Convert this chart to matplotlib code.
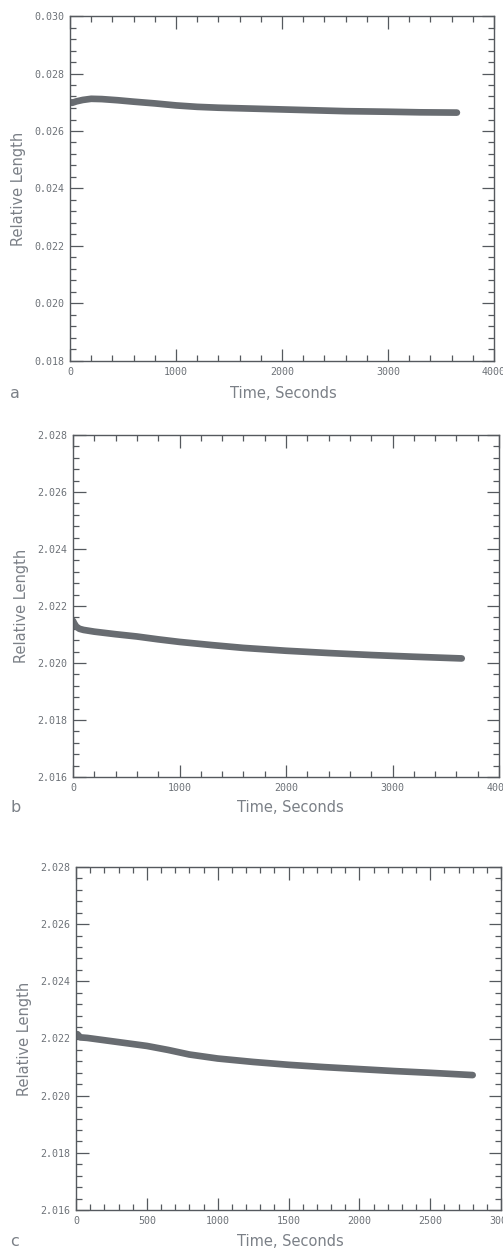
import matplotlib
matplotlib.use("Agg")
import matplotlib.pyplot as plt
from matplotlib.ticker import MultipleLocator

# ---- data ----
time_a = [0, 20, 60, 120, 200, 300, 450, 600, 800, 1000, 1200, 1400, 1700, 2000, 2300, 2600, 3000, 3300, 3650]
len_a = [0.02700, 0.02698, 0.02703, 0.02708, 0.02712, 0.02711, 0.02707, 0.02702, 0.02696, 0.02689, 0.02684,
         0.02681, 0.02678, 0.02675, 0.02672, 0.02669, 0.02667, 0.02665, 0.02664]

time_b = [0, 10, 30, 60, 100, 200, 400, 600, 800, 1000, 1300, 1600, 2000, 2400, 2800, 3200, 3650]
len_b = [0.02148, 0.02140, 0.02128, 0.02120, 0.02116, 0.02110, 0.02101, 0.02093, 0.02083, 0.02074, 0.02063,
         0.02053, 0.02043, 0.02035, 0.02028, 0.02022, 0.02016]

time_c = [0, 10, 30, 80, 200, 350, 500, 650, 800, 1000, 1250, 1500, 1750, 2000, 2250, 2500, 2800]
len_c = [0.02210, 0.02215, 0.02204, 0.02202, 0.02194, 0.02184, 0.02174, 0.02160, 0.02144, 0.02130, 0.02118,
         0.02108, 0.02100, 0.02093, 0.02086, 0.02080, 0.02072]

yticks = [0.016, 0.018, 0.020, 0.022, 0.024, 0.026, 0.028]
yticklabels_a = ["0.018", "0.020", "0.022", "0.024", "0.026", "0.028", "0.030"]
yticks_a = [0.018, 0.020, 0.022, 0.024, 0.026, 0.028, 0.030]
yticklabels_bc = ["2.016", "2.018", "2.020", "2.022", "2.024", "2.026", "2.028"]

xticks_ab = [0, 1000, 2000, 3000, 4000]
xticklabels_ab = ["0", "1000", "2000", "3000", "4000"]
xticks_c = [0, 500, 1000, 1500, 2000, 2500, 3000]
xticklabels_c = ["0", "500", "1000", "1500", "2000", "2500", "3000"]

panel_letters = ["a", "b", "c"]

# ---- figure ----
W, H = 503, 1250
fig = plt.figure(figsize=(W / 100, H / 100), dpi=100)
fig.patch.set_facecolor("white")

line_col = "#686c71"
axis_col = "#55595e"
text_col = "#7b8087"


def px_axes(left, top, right, bottom):
    return fig.add_axes([left / W, 1 - bottom / H, (right - left) / W, (bottom - top) / H])


panels = [
    dict(box=(70, 16, 494, 361), t=time_a, y=len_a, ylim=(0.018, 0.030), yt=yticks_a, ytl=yticklabels_a,
         xlim=(0, 4000), xt=xticks_ab, xtl=xticklabels_ab, xminor=200, letter_y=393, label=(283, 394)),
    dict(box=(73, 435, 499, 777), t=time_b, y=len_b, ylim=(0.016, 0.028), yt=yticks, ytl=yticklabels_bc,
         xlim=(0, 4000), xt=xticks_ab, xtl=xticklabels_ab, xminor=200, letter_y=807, label=(290, 808)),
    dict(box=(76, 867, 501, 1210), t=time_c, y=len_c, ylim=(0.016, 0.028), yt=yticks, ytl=yticklabels_bc,
         xlim=(0, 3000), xt=xticks_c, xtl=xticklabels_c, xminor=100, letter_y=1242, label=(290, 1242)),
]

for i, p in enumerate(panels):
    ax = px_axes(*p["box"])
    ax.plot(p["t"], p["y"], color=line_col, lw=4.8, solid_capstyle="round")
    ax.set_xlim(*p["xlim"])
    ax.set_ylim(*p["ylim"])
    ax.set_xticks(p["xt"])
    ax.set_xticklabels(p["xtl"])
    ax.set_yticks(p["yt"])
    ax.set_yticklabels(p["ytl"])
    ax.xaxis.set_minor_locator(MultipleLocator(p["xminor"]))
    ax.yaxis.set_minor_locator(MultipleLocator(0.0004))
    ax.tick_params(which="both", direction="in", top=True, right=True, color=axis_col, width=0.9)
    ax.tick_params(which="major", length=9, labelsize=7.2, labelcolor="#6d7278", pad=4)
    ax.tick_params(which="minor", length=4)
    for lab in ax.get_xticklabels() + ax.get_yticklabels():
        lab.set_family("DejaVu Sans Mono")
    for s in ax.spines.values():
        s.set_color(axis_col)
        s.set_linewidth(1.0)
    ax.set_ylabel("Relative Length", color=text_col, fontsize=10.5, labelpad=6)
    lx, ly = p["label"]
    fig.text(lx / W, 1 - ly / H, "Time, Seconds", color=text_col,
             fontsize=10.5, ha="center", va="center")
    fig.text(10 / W, 1 - p["letter_y"] / H, panel_letters[i], color=text_col, fontsize=11.5,
             ha="left", va="center")

fig.savefig("out.png", dpi=100, facecolor="white")
